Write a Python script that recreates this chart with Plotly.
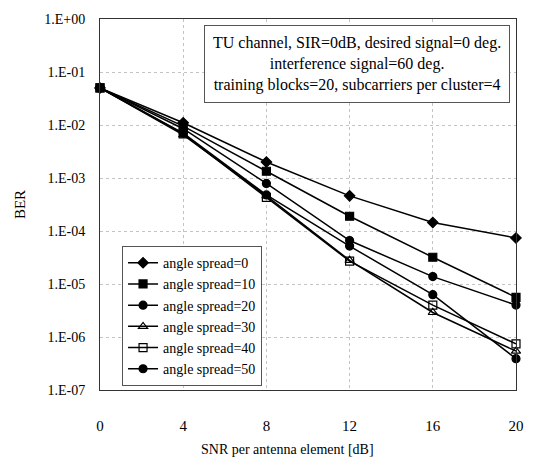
import plotly.graph_objects as go

snr = [0, 4, 8, 12, 16, 20]
ber_as0 = [5.0e-2, 1.1e-2, 2.0e-3, 4.6e-4, 1.45e-4, 7.4e-5]
ber_as10 = [5.0e-2, 9.5e-3, 1.34e-3, 1.9e-4, 3.2e-5, 5.6e-6]
ber_as20 = [5.0e-2, 8.5e-3, 7.9e-4, 6.6e-5, 1.38e-5, 4.0e-6]
ber_as30 = [5.0e-2, 6.5e-3, 4.6e-4, 2.8e-5, 2.9e-6, 5.4e-7]
ber_as40 = [5.0e-2, 6.8e-3, 4.3e-4, 2.7e-5, 4.0e-6, 7.4e-7]
ber_as50 = [5.0e-2, 7.0e-3, 4.8e-4, 5.2e-5, 6.3e-6, 3.9e-7]

series_names = ["angle spread=0", "angle spread=10", "angle spread=20",
                "angle spread=30", "angle spread=40", "angle spread=50"]
series_vals = [ber_as0, ber_as10, ber_as20, ber_as30, ber_as40, ber_as50]
symbols = ["diamond", "square", "circle", "triangle-up-open", "square-open", "circle"]
sizes = [8, 8, 8, 8, 8, 8]

y_tickvals = [1, 1e-1, 1e-2, 1e-3, 1e-4, 1e-5, 1e-6, 1e-7]
y_ticktext = ["1.E+00", "1.E-01", "1.E-02", "1.E-03", "1.E-04", "1.E-05", "1.E-06", "1.E-07"]
x_tickvals = [0, 4, 8, 12, 16, 20]

font_family = "Liberation Serif, Times New Roman, serif"

fig = go.Figure()
for name, vals, sym, sz in zip(series_names, series_vals, symbols, sizes):
    fig.add_trace(go.Scatter(
        x=snr, y=vals, name=name, mode="lines+markers",
        line=dict(color="black", width=1.5),
        marker=dict(symbol=sym, size=sz, color="black",
                    line=dict(color="black", width=1.2)),
        cliponaxis=False,
    ))

fig.update_layout(
    width=536, height=466,
    margin=dict(l=100, r=18, t=15, b=76),
    paper_bgcolor="white", plot_bgcolor="white",
    font=dict(family=font_family, size=14, color="black"),
    showlegend=True,
    legend=dict(
        x=0.053, y=0.199, xanchor="left", yanchor="middle",
        bgcolor="white", bordercolor="#555", borderwidth=1,
        font=dict(family=font_family, size=14, color="black"),
        tracegroupgap=0, itemwidth=30,
    ),
    xaxis=dict(
        range=[0, 20], tickvals=x_tickvals, showgrid=True,
        gridcolor="#c4c4c4", griddash="dot", gridwidth=1,
        showline=True, linecolor="#333", linewidth=1, mirror=True,
        ticks="", ticklabelstandoff=22, ticklabeloverflow="allow",
        tickfont=dict(family=font_family, size=15),
        zeroline=False,
    ),
    yaxis=dict(
        type="log", range=[-7, 0], tickvals=y_tickvals, ticktext=y_ticktext,
        showgrid=True, gridcolor="#c4c4c4", griddash="dot", gridwidth=1,
        showline=True, linecolor="#333", linewidth=1, mirror=True,
        ticks="", ticklabelstandoff=11,
        tickfont=dict(family=font_family, size=14),
        title=dict(text="BER", standoff=14,
                   font=dict(family=font_family, size=15)),
    ),
)

fig.add_annotation(
    xref="paper", yref="paper", x=0.45, y=-0.16, xanchor="center", yanchor="middle",
    text="SNR per antenna element [dB]", showarrow=False,
    font=dict(family=font_family, size=14, color="black"),
)

fig.add_annotation(
    xref="paper", yref="paper", x=0.986, y=0.984, xanchor="right", yanchor="top",
    text="TU channel, SIR=0dB, desired signal=0 deg.<br>interference signal=60 deg.<br>training blocks=20, subcarriers per cluster=4",
    showarrow=False, align="center",
    font=dict(family=font_family, size=16, color="black"),
    bgcolor="white", bordercolor="#555", borderwidth=1, borderpad=8,
)

fig.write_html("out.html", config={"displayModeBar": False},
               post_script="document.body.style.margin='0';")
